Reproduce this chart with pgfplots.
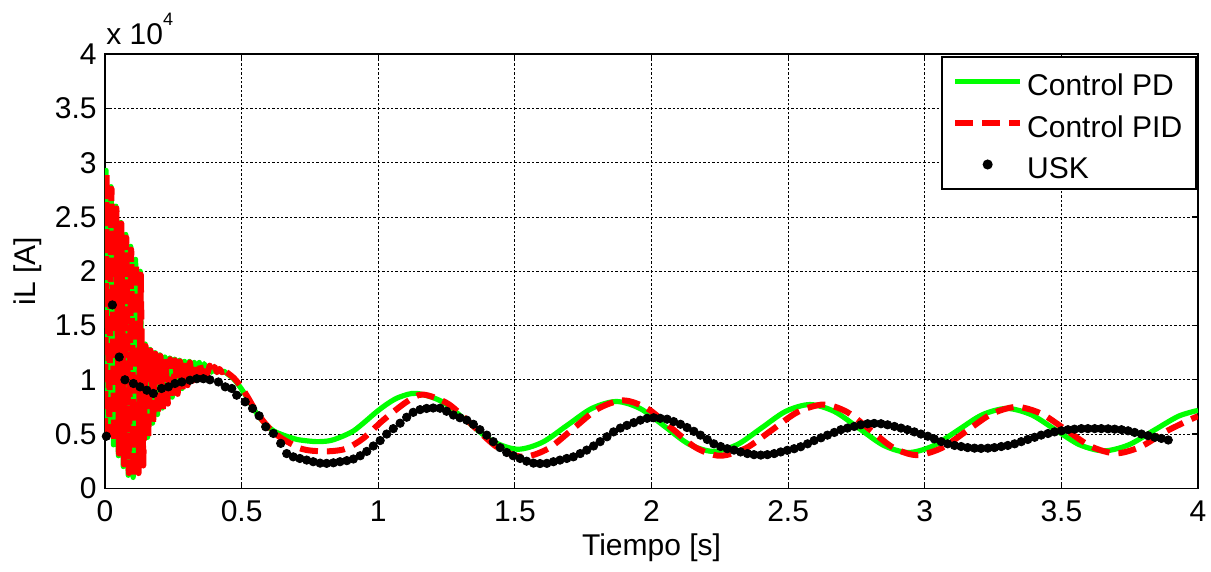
\documentclass[border=0pt]{standalone}
\usepackage{pgfplots}
\pgfplotsset{compat=1.18}
\usepackage{fontspec}
\setmainfont{Liberation Sans}
\definecolor{pdgreen}{RGB}{0,255,0}
\definecolor{pidred}{RGB}{255,0,0}

\begin{document}
\fontsize{15}{18}\selectfont
\begin{tikzpicture}
\begin{axis}[
  scale only axis, width=546.5pt, height=217pt,
  xmin=0, xmax=4, ymin=0, ymax=4,
  xtick={0,0.5,1,1.5,2,2.5,3,3.5,4},
  ytick={0,0.5,1,1.5,2,2.5,3,3.5,4},
  /pgf/number format/assume math mode=true,
  tick align=inside, major tick length=3pt,
  every tick/.style={black, line width=0.6pt},
  axis line style={line width=0.8pt},
  grid=major,
  major grid style={black, line width=0.5pt, dash pattern=on 1.2pt off 1pt},
  xticklabel style={anchor=base, yshift=-16.8pt},
  yticklabel style={anchor=east, inner sep=0pt, xshift=-4pt},
  xlabel={Tiempo [s]}, ylabel={iL [A]},
  xlabel style={at={(axis description cs:0.5,-0.1537)}, anchor=base},
  ylabel style={at={(axis description cs:-0.0705,0.5)}, anchor=center},
  legend image code/.code={\draw[mark repeat=2,mark phase=2,#1] plot coordinates {(0pt,0pt) (16.25pt,0pt) (32.5pt,0pt)};},
  legend style={at={(1,1)}, anchor=north east, xshift=-0.5pt, yshift=-1pt,
    draw=black, line width=0.8pt, inner xsep=5pt, inner ysep=3pt, row sep=2.35pt,
    nodes={inner sep=2pt, text height=14.4pt, text depth=0pt},
    cells={anchor=west}},
]
% Control PD
\addplot[pdgreen, line width=2.6pt, line join=round] coordinates {
(0,0.48) (0.004,2.93) (0.013,0.50) (0.022,2.78) (0.031,0.40) (0.040,2.60)
(0.049,0.30) (0.058,2.45) (0.067,0.20) (0.076,2.34) (0.085,0.12) (0.094,2.23)
(0.103,0.10) (0.112,2.11) (0.121,0.15) (0.129,2.00) (0.138,0.25) (0.147,1.33)
(0.156,0.47) (0.165,1.28) (0.174,0.60) (0.183,1.25) (0.192,0.68) (0.201,1.23)
(0.210,0.74) (0.219,1.21) (0.228,0.79) (0.237,1.20) (0.246,0.84) (0.255,1.19)
(0.264,0.88) (0.273,1.18) (0.282,0.92) (0.291,1.17) (0.300,0.96) (0.309,1.17)
(0.318,1.00) (0.327,1.16) (0.336,1.03) (0.345,1.16) (0.354,1.05) (0.363,1.15)
(0.372,1.06) (0.381,1.13) (0.390,1.07) (0.399,1.12) (0.408,1.07) (0.417,1.10)
(0.426,1.07) (0.435,1.08) (0.445,1.06)
};
\addplot[pdgreen, line width=2.6pt, line join=round, smooth, forget plot] coordinates {
(0.445,1.06) (0.47,1.01) (0.494,0.935) (0.52,0.835) (0.543,0.736) (0.567,0.65)
(0.592,0.58) (0.62,0.525) (0.653,0.49) (0.70,0.452) (0.74,0.437) (0.78,0.43)
(0.825,0.44) (0.87,0.48) (0.91,0.53) (0.95,0.61) (0.994,0.705) (1.04,0.79)
(1.08,0.843) (1.14,0.875) (1.2325,0.80) (1.325,0.6175) (1.4175,0.435) (1.51,0.36)
(1.6005,0.424) (1.691,0.58) (1.7815,0.736) (1.872,0.80) (1.960,0.733) (2.0485,0.57)
(2.137,0.407) (2.225,0.34) (2.314,0.403) (2.4025,0.556) (2.491,0.709) (2.58,0.772)
(2.67,0.707) (2.76,0.551) (2.85,0.395) (2.94,0.33) (3.03,0.39) (3.12,0.533)
(3.21,0.677) (3.30,0.736) (3.389,0.679) (3.4775,0.5405) (3.566,0.402) (3.655,0.345)
(3.746,0.40) (3.8375,0.5325) (3.929,0.665) (4.0,0.718)
};
% Control PID
\addplot[pidred, line width=3pt, line join=round, dash pattern=on 9pt off 4.5pt] coordinates {
(0,0.48) (0.006,2.90) (0.015,0.50) (0.024,2.76) (0.033,0.42) (0.042,2.58)
(0.051,0.32) (0.060,2.44) (0.069,0.22) (0.078,2.31) (0.087,0.14) (0.096,2.20)
(0.105,0.10) (0.114,2.08) (0.123,0.14) (0.131,1.97) (0.140,0.21) (0.149,1.31)
(0.158,0.46) (0.167,1.27) (0.176,0.59) (0.185,1.24) (0.194,0.67) (0.203,1.22)
(0.212,0.73) (0.221,1.21) (0.230,0.78) (0.239,1.19) (0.248,0.83) (0.257,1.18)
(0.266,0.87) (0.275,1.17) (0.284,0.91) (0.293,1.17) (0.302,0.95) (0.311,1.16)
(0.320,0.99) (0.329,1.16) (0.338,1.02) (0.347,1.15) (0.356,1.04) (0.365,1.14)
(0.374,1.05) (0.383,1.13) (0.392,1.06) (0.401,1.12) (0.410,1.07) (0.419,1.10)
(0.428,1.07) (0.437,1.08) (0.445,1.07)
};
\addplot[pidred, line width=3pt, line join=round, dash pattern=on 9pt off 4.5pt, smooth, forget plot] coordinates {
(0.445,1.07) (0.47,1.02) (0.494,0.95) (0.52,0.85) (0.543,0.75) (0.567,0.66)
(0.592,0.58) (0.62,0.51) (0.653,0.45) (0.689,0.40) (0.714,0.368) (0.745,0.35)
(0.775,0.343) (0.80,0.34) (0.84,0.345) (0.885,0.368) (0.945,0.46) (1.018,0.628)
(1.104,0.797) (1.163,0.864) (1.255,0.78) (1.3465,0.577) (1.438,0.374) (1.53,0.29)
(1.622,0.366) (1.7135,0.55) (1.805,0.734) (1.897,0.81) (1.985,0.735) (2.0735,0.555)
(2.162,0.375) (2.25,0.30) (2.345,0.369) (2.44,0.536) (2.535,0.703) (2.63,0.772)
(2.715,0.704) (2.80,0.539) (2.885,0.374) (2.97,0.306) (3.0615,0.371) (3.153,0.528)
(3.2445,0.685) (3.336,0.75) (3.427,0.687) (3.518,0.536) (3.609,0.385) (3.70,0.322)
(3.79,0.383) (3.88,0.52) (3.96,0.62) (4.0,0.665)
};
% USK
\addplot[only marks, mark=*, mark size=2.1pt, black] coordinates {
(0.005,0.48) (0.027,1.69) (0.052,1.21) (0.073,1.00) (0.104,0.966) (0.128,0.935)
(0.153,0.904) (0.177,0.874) (0.207,0.92) (0.232,0.935) (0.256,0.966) (0.281,0.98)
(0.311,0.996) (0.336,1.01) (0.360,1.01) (0.384,1.00) (0.415,0.98) (0.440,0.935)
(0.464,0.92) (0.482,0.858) (0.513,0.797) (0.540,0.736) (0.564,0.668) (0.588,0.567)
(0.616,0.506) (0.643,0.414) (0.665,0.32) (0.689,0.29) (0.713,0.275) (0.738,0.26)
(0.762,0.245) (0.787,0.232) (0.811,0.23) (0.836,0.235) (0.860,0.245) (0.885,0.255)
(0.909,0.27) (0.934,0.30) (0.958,0.34) (0.982,0.39) (1.007,0.44) (1.031,0.50)
(1.055,0.55) (1.080,0.60) (1.104,0.655) (1.128,0.70) (1.153,0.725) (1.177,0.736)
(1.201,0.74) (1.226,0.738) (1.250,0.71) (1.275,0.675) (1.299,0.65) (1.324,0.628)
(1.348,0.59) (1.372,0.54) (1.397,0.49) (1.421,0.43) (1.446,0.375) (1.470,0.33)
(1.494,0.30) (1.519,0.275) (1.543,0.25) (1.568,0.232) (1.592,0.228) (1.617,0.23)
(1.641,0.245) (1.665,0.26) (1.690,0.275) (1.714,0.29) (1.739,0.32) (1.763,0.352)
(1.788,0.39) (1.812,0.43) (1.837,0.475) (1.861,0.52) (1.886,0.555) (1.910,0.58)
(1.935,0.605) (1.959,0.628) (1.984,0.645) (2.008,0.65) (2.032,0.645) (2.057,0.637)
(2.081,0.615) (2.106,0.59) (2.130,0.56) (2.155,0.525) (2.179,0.49) (2.204,0.45)
(2.228,0.41) (2.253,0.385) (2.277,0.365) (2.302,0.352) (2.326,0.335) (2.351,0.32)
(2.375,0.31) (2.400,0.306) (2.424,0.31) (2.449,0.32) (2.473,0.335) (2.497,0.35)
(2.522,0.365) (2.546,0.383) (2.571,0.41) (2.595,0.44) (2.620,0.465) (2.644,0.49)
(2.669,0.515) (2.693,0.54) (2.717,0.555) (2.742,0.57) (2.766,0.585) (2.791,0.595)
(2.815,0.598) (2.840,0.595) (2.864,0.585) (2.889,0.57) (2.913,0.555) (2.937,0.54)
(2.962,0.52) (2.986,0.50) (3.011,0.48) (3.035,0.455) (3.060,0.43) (3.084,0.41)
(3.109,0.395) (3.133,0.385) (3.157,0.375) (3.182,0.37) (3.206,0.368) (3.231,0.37)
(3.255,0.375) (3.280,0.385) (3.304,0.395) (3.329,0.41) (3.353,0.43) (3.377,0.45)
(3.402,0.47) (3.426,0.49) (3.451,0.505) (3.475,0.52) (3.500,0.53) (3.524,0.54)
(3.548,0.545) (3.573,0.55) (3.597,0.55) (3.622,0.55) (3.646,0.55) (3.671,0.548)
(3.695,0.545) (3.720,0.54) (3.744,0.53) (3.768,0.515) (3.793,0.50) (3.817,0.485)
(3.842,0.47) (3.866,0.46) (3.891,0.445)
};
\legend{Control PD, Control PID, USK}
\end{axis}
\node[anchor=base west, inner sep=0pt] at ([xshift=0.5pt, yshift=4.7pt]current axis.north west)
  {x 10\raisebox{9.5pt}{\fontsize{9}{9}\selectfont 4}};
\pgfresetboundingbox
\path ([xshift=-52.5pt, yshift=-41.35pt]current axis.south west)
  rectangle ([xshift=6.5pt, yshift=27.15pt]current axis.north east);
\end{tikzpicture}
\end{document}
